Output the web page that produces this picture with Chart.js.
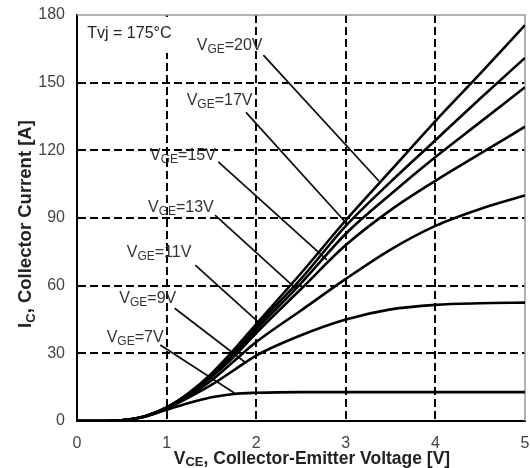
<!DOCTYPE html>
<html>
<head>
<meta charset="utf-8">
<script src="https://cdn.jsdelivr.net/npm/chart.js@4.4.0/dist/chart.umd.min.js"></script>
<style>
  html, body { margin: 0; padding: 0; background: #fff; }
  #wrap { width: 530px; height: 468px; }
</style>
</head>
<body>
<div id="wrap"><canvas id="chart"></canvas></div>
<script>
// Collector-emitter voltage points [V]
const vce = [0, 0.25, 0.5, 0.75, 1, 1.25, 1.5, 1.75, 2, 2.5, 3, 3.5, 4, 4.5, 5];

// Collector current [A] for each gate-emitter voltage
const ic20 = [0, 0, 0.3, 2, 6, 12.5, 21, 31.5, 43, 65.5, 89, 111, 133, 154, 175.5];
const ic17 = [0, 0, 0.3, 2, 6, 12.3, 20.5, 30.5, 42, 63, 86.5, 106, 124.5, 143, 161];
const ic15 = [0, 0, 0.3, 2, 6, 12, 20, 29.5, 40.5, 61, 83, 100.5, 117, 132.5, 148];
const ic13 = [0, 0, 0.3, 2, 5.8, 11.7, 19.5, 28.5, 39, 58.5, 78, 93.5, 106.5, 118.5, 130.5];
const ic11 = [0, 0, 0.3, 2, 5.7, 11.2, 18, 26.5, 35, 49, 63, 76, 86.5, 94, 100];
const ic9 = [0, 0, 0.3, 1.9, 5.5, 10.5, 16, 22.5, 29, 38, 45, 49.5, 51.5, 52.2, 52.5];
const ic7 = [0, 0, 0.3, 1.8, 5, 8, 10.5, 12, 12.5, 12.8, 12.8, 12.8, 12.8, 12.8, 12.8];

const gateLabels = ['20V', '17V', '15V', '13V', '11V', '9V', '7V'];
const gateSeries = [ic20, ic17, ic15, ic13, ic11, ic9, ic7];

const xTicks = [0, 1, 2, 3, 4, 5];
const yTicks = [0, 30, 60, 90, 120, 150, 180];

// label anchors (left end of text, baseline) and leader lines, in axis units
const labelAnchors = [
  [1.336, 164.5], [1.224, 140.1], [0.815, 115.7], [0.792, 92.8],
  [0.555, 72.8], [0.472, 52.2], [0.331, 35.2]
];
const leaderLines = [
  [2.08, 162.2, 3.37, 106.4],
  [1.886, 136.8, 3.0, 88],
  [1.577, 114.9, 2.79, 71.4],
  [1.54, 91.3, 2.45, 58.5],
  [1.32, 69.1, 2.04, 43.3],
  [1.09, 50, 1.89, 25.6],
  [0.93, 33.7, 1.76, 12.3]
];

const FONT = '"Liberation Sans", Arial, sans-serif';

// draws text made of normal and subscript pieces
function drawRich(ctx, parts, x, y, opts) {
  const size = opts.size, sub = Math.round(size * 0.72), weight = opts.weight || 'normal';
  const drop = opts.drop !== undefined ? opts.drop : size * 0.2;
  let total = 0;
  parts.forEach(p => {
    ctx.font = weight + ' ' + (p.sub ? sub : size) + 'px ' + FONT;
    p.w = ctx.measureText(p.t).width;
    total += p.w;
  });
  let cx = opts.align === 'center' ? x - total / 2 : x;
  ctx.fillStyle = opts.color;
  ctx.textAlign = 'left';
  ctx.textBaseline = 'alphabetic';
  parts.forEach(p => {
    ctx.font = weight + ' ' + (p.sub ? sub : size) + 'px ' + FONT;
    ctx.fillText(p.t, cx, p.sub ? y + drop : y);
    cx += p.w;
  });
}

const datasets = [];
gateSeries.forEach((series, k) => {
  datasets.push({
    label: 'VGE=' + gateLabels[k],
    data: vce.map((v, i) => ({ x: v, y: series[i] })),
    borderColor: '#000',
    borderWidth: 2.6,
    pointRadius: 0,
    cubicInterpolationMode: 'monotone',
    fill: false
  });
});
leaderLines.forEach(l => {
  datasets.push({
    label: 'leader',
    data: [{ x: l[0], y: l[1] }, { x: l[2], y: l[3] }],
    borderColor: '#111',
    borderWidth: 1.8,
    pointRadius: 0,
    tension: 0,
    fill: false
  });
});

const decorations = {
  id: 'decorations',
  beforeDatasetsDraw(chart) {
    const { ctx, chartArea: a } = chart;
    ctx.save();
    // white box behind the temperature note
    ctx.fillStyle = '#fff';
    ctx.fillRect(a.left + 2, a.top + 2, 100, 36);
    // light frame on top and right
    ctx.strokeStyle = '#999';
    ctx.lineWidth = 1.5;
    ctx.beginPath();
    ctx.moveTo(a.left, a.top);
    ctx.lineTo(a.right, a.top);
    ctx.lineTo(a.right, a.bottom);
    ctx.stroke();
    ctx.restore();
  },
  afterDatasetsDraw(chart) {
    const { ctx, scales: { x, y } } = chart;
    ctx.save();
    drawRich(ctx, [{ t: 'Tvj = 175°C' }], x.getPixelForValue(0.115), y.getPixelForValue(169.9),
      { size: 16, color: '#222' });
    gateLabels.forEach((g, k) => {
      const p = labelAnchors[k];
      drawRich(ctx, [{ t: 'V' }, { t: 'GE', sub: true }, { t: '=' + g }],
        x.getPixelForValue(p[0]), y.getPixelForValue(p[1]), { size: 16, color: '#333' });
    });
    ctx.restore();
  },
  afterDraw(chart) {
    const { ctx, chartArea: a } = chart;
    ctx.save();
    drawRich(ctx, [{ t: 'V' }, { t: 'CE', sub: true }, { t: ', Collector-Emitter Voltage [V]' }],
      (a.left + a.right) / 2 + 11, 463.5,
      { size: 17.5, weight: 'bold', color: '#222', align: 'center', drop: 2.5 });
    ctx.translate(31, 224);
    ctx.rotate(-Math.PI / 2);
    drawRich(ctx, [{ t: 'I' }, { t: 'C', sub: true }, { t: ', Collector Current [A]' }],
      0, 0, { size: 18.5, weight: 'bold', color: '#222', align: 'center' });
    ctx.restore();
  }
};

const edgeless = (min, max) => ctx => {
  const v = ctx.tick && ctx.tick.value;
  return (v === min || v === max) ? 'rgba(0,0,0,0)' : '#000';
};

new Chart(document.getElementById('chart'), {
  type: 'line',
  data: { datasets: datasets },
  options: {
    responsive: true,
    maintainAspectRatio: false,
    animation: false,
    events: [],
    layout: { padding: { top: 15, right: 5, left: 0, bottom: 0 } },
    plugins: { legend: { display: false }, tooltip: { enabled: false } },
    scales: {
      x: {
        type: 'linear',
        min: 0, max: 5,
        afterBuildTicks: s => { s.ticks = xTicks.map(v => ({ value: v })); },
        afterFit: s => { s.height = 47; s.paddingLeft = 0; s.paddingRight = 0; },
        ticks: { color: '#444', padding: 13, font: { size: 16, family: FONT } },
        grid: { color: edgeless(0, 5), lineWidth: 2, drawTicks: false },
        border: { display: true, color: '#000', width: 2, dash: [8, 4] }
      },
      y: {
        type: 'linear',
        min: 0, max: 180,
        afterBuildTicks: s => { s.ticks = yTicks.map(v => ({ value: v })); },
        afterFit: s => { s.width = 77; s.paddingTop = 0; s.paddingBottom = 0; },
        ticks: { color: '#444', padding: 12, font: { size: 16, family: FONT } },
        grid: { color: edgeless(0, 180), lineWidth: 2, drawTicks: false },
        border: { display: true, color: '#000', width: 2, dash: [8, 4] }
      }
    }
  },
  plugins: [decorations]
});
</script>
</body>
</html>
